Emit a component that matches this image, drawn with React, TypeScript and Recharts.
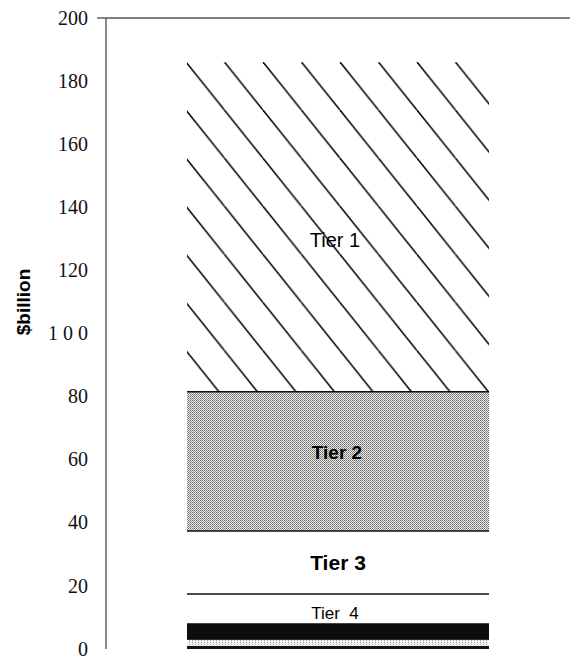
import React from "react";
import {
  Bar,
  BarChart,
  LabelList,
  ReferenceLine,
  XAxis,
  YAxis,
} from "recharts";

// one stacked column, values in $billion, read bottom to top
const categories = ["Capital"];
const tier4Base = [1.0];
const tier4Strip = [1.9];
const tier4Band = [5.3];
const tier4Rest = [9.2];
const tier3 = [20.0];
const tier2 = [44.1];
const tier1 = [104.5];

const yTicks = [0, 20, 40, 60, 80, 100, 120, 140, 160, 180, 200];
const yTickLabels = ["0", "20", "40", "60", "80", "1 0 0", "120", "140", "160", "180", "200"];
const tierLabels = ["Tier 1", "Tier 2", "Tier 3", "Tier  4"];

const data = categories.map((name, i) => ({
  name,
  t4base: tier4Base[i],
  t4strip: tier4Strip[i],
  t4band: tier4Band[i],
  t4rest: tier4Rest[i],
  tier3: tier3[i],
  tier2: tier2[i],
  tier1: tier1[i],
}));

const SERIF = "'Liberation Serif', 'Times New Roman', serif";
const SANS = "'Liberation Sans', Arial, sans-serif";
const AXIS = "#555";

const YTick = ({ y, payload }: any) => {
  const idx = yTicks.indexOf(payload.value);
  return (
    <g>
      <text x={88} y={y} dy="0.33em" textAnchor="end" fontFamily={SERIF} fontSize={20} fill="#111">
        {yTickLabels[idx]}
      </text>
      {payload.value === 200 && <line x1={97} x2={106} y1={y} y2={y} stroke={AXIS} strokeWidth={1.4} />}
    </g>
  );
};

// plain filled segment
const FillShape = (props: any) => {
  const { x, y, width, height, fill } = props;
  return <rect x={x} y={y} width={width} height={height} fill={fill} />;
};

// segment with a rule along its lower edge
const BottomRuleShape = (props: any) => {
  const { x, y, width, height, fill } = props;
  return (
    <g>
      <rect x={x} y={y} width={width} height={height} fill={fill} />
      <line x1={x} x2={x + width} y1={y + height} y2={y + height} stroke="#111" strokeWidth={1.5} />
    </g>
  );
};

// segment framed top and bottom
const BoxedShape = (props: any) => {
  const { x, y, width, height, fill } = props;
  return (
    <g>
      <rect x={x} y={y} width={width} height={height} fill={fill} />
      <line x1={x} x2={x + width} y1={y} y2={y} stroke="#111" strokeWidth={1.5} />
      <line x1={x} x2={x + width} y1={y + height} y2={y + height} stroke="#111" strokeWidth={1.5} />
    </g>
  );
};

const tierLabel = (text: string, dx: number, dy: number, size: number, bold: boolean) => (props: any) => {
  const { x, y, width, height } = props;
  return (
    <text
      x={x + width / 2 + dx}
      y={y + height / 2 + dy}
      dy="0.35em"
      textAnchor="middle"
      fontFamily={SANS}
      fontSize={size}
      fontWeight={bold ? 700 : 400}
      fill="#000"
      style={{ whiteSpace: "pre" }}
    >
      {text}
    </text>
  );
};

const HW = 38.5;
const HH = 48.1;

export default function App() {
  return (
    <div style={{ position: "absolute", left: 0, top: 0, background: "#fff" }}>
      <BarChart
        width={570}
        height={658}
        data={data}
        margin={{ top: 18, right: 0, bottom: 9, left: 0 }}
        barSize={302}
      >
        <defs>
          <pattern id="hatch" patternUnits="userSpaceOnUse" x={186} y={62} width={HW} height={HH}>
            <line x1={0} y1={0} x2={HW} y2={HH} stroke="#000" strokeWidth={1.5} />
            <line x1={HW} y1={0} x2={2 * HW} y2={HH} stroke="#000" strokeWidth={1.5} />
            <line x1={-HW} y1={0} x2={0} y2={HH} stroke="#000" strokeWidth={1.5} />
          </pattern>
          <pattern id="dither" patternUnits="userSpaceOnUse" width={2} height={2}>
            <rect x={0} y={0} width={2} height={2} fill="#ededed" />
            <rect x={0} y={0} width={1} height={1} fill="#6a6a6a" />
            <rect x={1} y={1} width={1} height={1} fill="#8e8e8e" />
          </pattern>
          <pattern id="lightDots" patternUnits="userSpaceOnUse" width={3} height={2}>
            <rect x={0} y={0} width={3} height={2} fill="#f4f4f4" />
            <rect x={0} y={0} width={1} height={1} fill="#999" />
          </pattern>
        </defs>
        <XAxis dataKey="name" hide />
        <XAxis xAxisId="frame" type="number" domain={[0, 464]} hide />
        <YAxis
          domain={[0, 200]}
          ticks={yTicks}
          interval={0}
          width={106}
          tickLine={false}
          axisLine={{ stroke: AXIS, strokeWidth: 1.4 }}
          tick={<YTick />}
          label={{
            content: () => (
              <text
                x={23}
                y={302}
                transform="rotate(-90 23 302)"
                textAnchor="middle"
                dy="0.35em"
                fontFamily={SANS}
                fontSize={19}
                fontWeight={700}
                fill="#000"
              >
                $billion
              </text>
            ),
          }}
        />
        <ReferenceLine y={200} stroke={AXIS} strokeWidth={1.4} />
        <ReferenceLine
          xAxisId="frame"
          segment={[
            { x: 12, y: 0 },
            { x: 434, y: 0 },
          ]}
          stroke="#333"
          strokeWidth={1.4}
        />
        <Bar dataKey="t4base" stackId="a" fill="#111" shape={FillShape} isAnimationActive={false} />
        <Bar dataKey="t4strip" stackId="a" fill="url(#lightDots)" shape={FillShape} isAnimationActive={false} />
        <Bar dataKey="t4band" stackId="a" fill="#0d0d0d" shape={FillShape} isAnimationActive={false} />
        <Bar dataKey="t4rest" stackId="a" fill="#fff" shape={FillShape} isAnimationActive={false}>
          <LabelList dataKey="t4rest" content={tierLabel(tierLabels[3], -3, 4, 17, false)} />
        </Bar>
        <Bar dataKey="tier3" stackId="a" fill="#fff" shape={BottomRuleShape} isAnimationActive={false}>
          <LabelList dataKey="tier3" content={tierLabel(tierLabels[2], 0, 0, 21, true)} />
        </Bar>
        <Bar dataKey="tier2" stackId="a" fill="url(#dither)" shape={BoxedShape} isAnimationActive={false}>
          <LabelList dataKey="tier2" content={tierLabel(tierLabels[1], -1, -9, 19, true)} />
        </Bar>
        <Bar dataKey="tier1" stackId="a" fill="url(#hatch)" shape={FillShape} isAnimationActive={false}>
          <LabelList dataKey="tier1" content={tierLabel(tierLabels[0], -3, 13, 20, false)} />
        </Bar>
      </BarChart>
    </div>
  );
}
